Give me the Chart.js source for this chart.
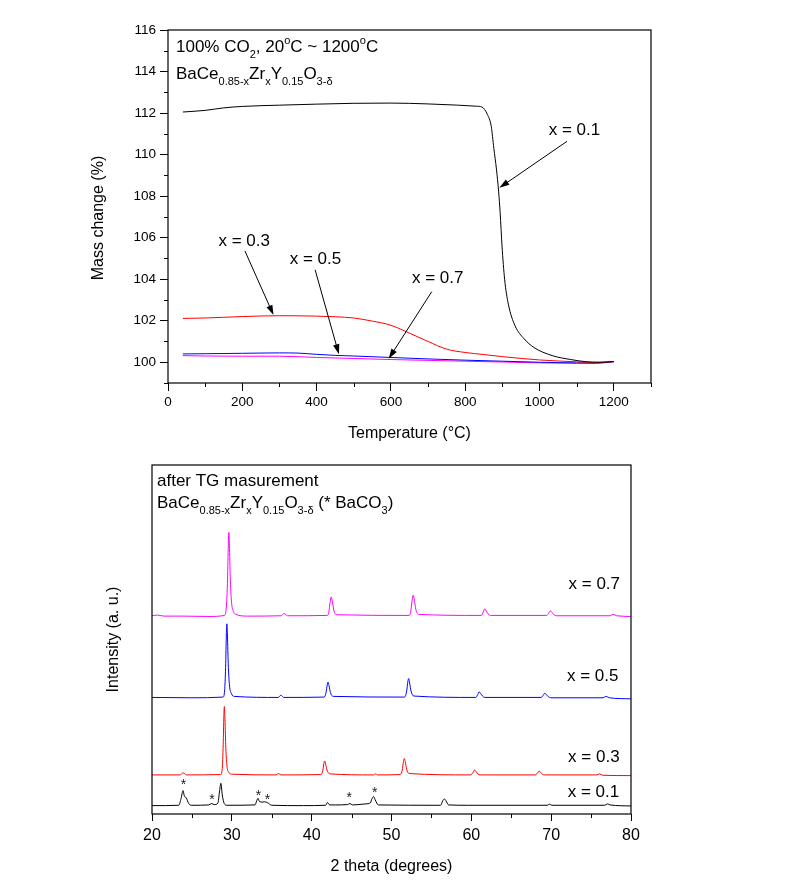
<!DOCTYPE html>
<html>
<head>
<meta charset="utf-8">
<script src="https://cdn.jsdelivr.net/npm/chart.js@4"></script>
<style>
  body { margin: 0; background: #fff; }
  canvas { display: block; }
</style>
</head>
<body>
<canvas id="tgChart" width="796" height="450"></canvas>
<canvas id="xrdChart" width="796" height="438"></canvas>
<script>
// ---- TG curves: temperature (°C) / mass change (%) ----
var tempX01 = [40, 100, 150, 200, 300, 400, 500, 600, 700, 780, 830, 845, 860, 870, 877, 884, 890, 894, 899, 906, 916, 934, 959, 984, 1034, 1084, 1123, 1163, 1200];
var massX01 = [112.05, 112.13, 112.25, 112.32, 112.38, 112.43, 112.47, 112.48, 112.44, 112.38, 112.33, 112.29, 111.92, 111.36, 110.3, 109.3, 108.2, 107.2, 105.6, 104.0, 102.8, 101.76, 101.12, 100.72, 100.32, 100.13, 100.03, 100.0, 100.03];
var tempX03 = [40, 100, 200, 300, 400, 450, 500, 550, 600, 650, 700, 750, 800, 850, 900, 1000, 1100, 1150, 1200];
var massX03 = [102.11, 102.13, 102.2, 102.24, 102.22, 102.19, 102.13, 101.98, 101.78, 101.4, 101.0, 100.63, 100.47, 100.37, 100.27, 100.11, 100.02, 99.99, 100.03];
var tempX05 = [40, 100, 200, 300, 350, 400, 450, 500, 600, 700, 800, 900, 1000, 1100, 1150, 1200];
var massX05 = [100.4, 100.41, 100.43, 100.45, 100.44, 100.38, 100.33, 100.3, 100.23, 100.16, 100.1, 100.05, 100.0, 99.97, 99.97, 100.03];
var tempX07 = [40, 100, 200, 300, 400, 500, 600, 700, 800, 900, 1000, 1100, 1150, 1200];
var massX07 = [100.32, 100.3, 100.29, 100.29, 100.23, 100.18, 100.13, 100.09, 100.05, 100.01, 99.97, 99.95, 99.94, 100.03];

var tgXTicks = [0, 200, 400, 600, 800, 1000, 1200];
var tgXMinor = [100, 300, 500, 700, 900, 1100, 1300];
var tgYTicks = [100, 102, 104, 106, 108, 110, 112, 114, 116];
var tgYMinor = [99, 101, 103, 105, 107, 109, 111, 113, 115];

// labels and arrows (tail x, tail y, head x, head y) in data units
var tgLabels = [['x = 0.1', 1094, 111.15], ['x = 0.3', 205, 105.84], ['x = 0.5', 397, 104.95], ['x = 0.7', 726, 104.02]];
var tgArrows = [[1074, 110.64, 892, 108.4], [207, 105.36, 284, 102.27], [396, 104.45, 460, 100.38], [710, 103.4, 594, 100.17]];

// ---- XRD patterns: 2 theta / intensity (offset, a.u.) ----
var tthX07 = [20, 20.7, 21.5, 24, 27, 29.1, 29.3, 29.45, 29.55, 29.62, 29.7, 29.8, 29.95, 30.15, 30.5, 32, 36.2, 36.4, 36.55, 36.7, 37.0, 41.95, 42.15, 42.3, 42.45, 42.6, 42.8, 43.1, 52.2, 52.4, 52.57, 52.72, 52.87, 53.05, 53.4, 61.25, 61.5, 61.68, 61.85, 62.1, 62.4, 69.45, 69.7, 69.9, 70.1, 70.35, 70.7, 77.4, 77.75, 78.2, 80];
var intX07 = [56.8, 57.0, 56.7, 56.7, 56.6, 56.9, 59, 66, 76, 80.7, 77, 68, 61, 58.3, 57.2, 56.7, 56.8, 57.3, 57.5, 57.3, 56.8, 56.9, 57.8, 60.5, 62.2, 60.8, 58.2, 57.1, 56.9, 57.9, 61, 62.7, 61.2, 58.6, 57.2, 56.9, 57.9, 58.8, 58.3, 57.3, 56.9, 56.9, 57.6, 58.2, 57.8, 57.1, 56.8, 56.8, 57.2, 56.8, 56.6];
var tthX05 = [20, 25, 28.9, 29.1, 29.22, 29.32, 29.38, 29.45, 29.55, 29.7, 29.95, 30.3, 35.85, 36.1, 36.25, 36.5, 41.55, 41.8, 41.95, 42.05, 42.17, 42.35, 42.7, 51.65, 51.9, 52.05, 52.15, 52.27, 52.45, 52.8, 60.55, 60.8, 60.98, 61.15, 61.4, 61.7, 68.75, 69.0, 69.2, 69.4, 69.65, 69.95, 76.5, 76.85, 77.3, 80];
var intX05 = [33.4, 33.3, 33.5, 35.5, 42, 52, 54.5, 51, 43, 37, 34.5, 33.7, 33.4, 34.0, 33.9, 33.4, 33.5, 34.8, 37, 37.8, 36.8, 34.8, 33.7, 33.5, 35.2, 38, 38.8, 37.5, 35.2, 33.8, 33.4, 34.2, 35.0, 34.6, 33.8, 33.4, 33.4, 34.0, 34.6, 34.2, 33.6, 33.3, 33.3, 33.7, 33.3, 33.0];
var tthX03 = [20, 23.5, 23.9, 24.3, 28.6, 28.8, 28.92, 29.0, 29.06, 29.13, 29.23, 29.38, 29.6, 30.0, 35.55, 35.85, 36.15, 41.15, 41.4, 41.53, 41.63, 41.75, 41.92, 42.25, 47.75, 48.0, 48.25, 51.1, 51.35, 51.5, 51.6, 51.72, 51.9, 52.2, 59.95, 60.2, 60.4, 60.58, 60.85, 61.1, 68.05, 68.3, 68.5, 68.7, 68.95, 69.2, 75.7, 76.05, 76.45, 80];
var intX03 = [11.2, 11.2, 11.8, 11.2, 11.3, 13, 20, 28, 30.8, 28, 20, 14, 12, 11.4, 11.2, 11.6, 11.2, 11.3, 12.5, 14.5, 15.2, 14.3, 12.6, 11.5, 11.2, 11.5, 11.2, 11.3, 12.6, 15, 15.9, 15, 12.8, 11.6, 11.2, 11.9, 12.6, 12.2, 11.4, 11.2, 11.2, 11.8, 12.3, 11.9, 11.3, 11.2, 11.2, 11.5, 11.1, 11.0];
var tthX01 = [20, 23.35, 23.65, 23.88, 24.05, 24.3, 24.6, 25, 27.1, 27.45, 27.8, 28.25, 28.45, 28.63, 28.8, 29.05, 29.4, 32.9, 33.12, 33.28, 33.45, 33.8, 34.1, 34.5, 35, 39, 41.75, 41.98, 42.25, 43.0, 44.5, 44.8, 45.1, 46.3, 46.8, 47.35, 47.58, 47.75, 47.95, 48.35, 56.15, 56.42, 56.62, 56.82, 57.15, 59.5, 69.5, 69.8, 70.1, 76.7, 77.05, 77.4, 80];
var intX01 = [2.4, 2.5, 4.5, 6.7, 5.2, 4.6, 3.0, 2.5, 2.6, 3.0, 2.7, 3.1, 6.3, 8.8, 5.5, 3.0, 2.5, 2.6, 3.8, 4.5, 3.6, 3.4, 3.5, 3.2, 2.5, 2.4, 2.5, 3.3, 2.6, 2.6, 2.7, 3.0, 2.6, 2.8, 2.9, 3.2, 4.5, 5.0, 4.1, 2.6, 2.5, 3.8, 4.3, 3.8, 2.6, 2.5, 2.5, 2.8, 2.5, 2.5, 2.9, 2.6, 2.3];

var xrdXTicks = [20, 30, 40, 50, 60, 70, 80];
var xrdXMinor = [25, 35, 45, 55, 65, 75];
var xrdLabels = [['x = 0.7', 75.4, 65.9], ['x = 0.5', 75.2, 39.5], ['x = 0.3', 75.35, 16.2], ['x = 0.1', 75.3, 6.2]];
// BaCO3 peaks marked with *
var starTth = [23.94, 27.5, 33.35, 34.46, 44.7, 47.9];
var starInt = [9.3, 5.2, 6.2, 5.2, 5.7, 7.1];

var FONT = '"Liberation Sans", Arial, sans-serif';
Chart.defaults.font.family = FONT;
Chart.defaults.color = '#000';

function toXY(xs, ys) {
    return xs.map(function (x, i) { return { x: x, y: ys[i] }; });
}

// text with sub/superscripts: parts = [[text, ''|'sub'|'sup'], ...]
function drawRich(ctx, parts, x, y, size, align) {
    var small = Math.round(size * 0.62);
    var w = 0;
    parts.forEach(function (p) {
        ctx.font = (p[1] ? small : size) + 'px ' + FONT;
        w += ctx.measureText(p[0]).width;
    });
    if (align === 'center') x -= w / 2;
    ctx.textAlign = 'left';
    ctx.textBaseline = 'alphabetic';
    parts.forEach(function (p) {
        ctx.font = (p[1] ? small : size) + 'px ' + FONT;
        var dy = p[1] === 'sub' ? size * 0.33 : (p[1] === 'sup' ? -size * 0.45 : 0);
        ctx.fillText(p[0], x, y + dy);
        x += ctx.measureText(p[0]).width;
    });
}

function line(data, color) {
    return {
        data: data, borderColor: color, borderWidth: 1, pointRadius: 0,
        fill: false, cubicInterpolationMode: 'monotone'
    };
}

// frame round the plot area + short minor ticks
var framePlugin = {
    id: 'frame',
    afterDraw: function (chart, args, opts) {
        var a = chart.chartArea, ctx = chart.ctx;
        var sx = chart.scales.x, sy = chart.scales.y;
        ctx.save();
        ctx.strokeStyle = '#000';
        ctx.lineWidth = 1.2;
        ctx.strokeRect(a.left, a.top, a.right - a.left, a.bottom - a.top);
        ctx.lineWidth = 1;
        ctx.beginPath();
        (opts.minorX || []).forEach(function (v) {
            var px = Math.round(sx.getPixelForValue(v)) + 0.5;
            ctx.moveTo(px, a.bottom);
            ctx.lineTo(px, a.bottom + 4);
        });
        (opts.minorY || []).forEach(function (v) {
            var py = Math.round(sy.getPixelForValue(v)) + 0.5;
            ctx.moveTo(a.left, py);
            ctx.lineTo(a.left - 4, py);
        });
        ctx.stroke();
        ctx.restore();
    }
};

// ---------- top: TG ----------
var tgNotes = {
    id: 'tgNotes',
    afterDraw: function (chart) {
        var ctx = chart.ctx, a = chart.chartArea;
        var sx = chart.scales.x, sy = chart.scales.y;
        ctx.save();
        ctx.fillStyle = '#000';
        drawRich(ctx, [['100% CO', ''], ['2', 'sub'], [', 20', ''], ['o', 'sup'], ['C ~ 1200', ''], ['o', 'sup'], ['C', '']], a.left + 8, a.top + 22, 17);
        drawRich(ctx, [['BaCe', ''], ['0.85-x', 'sub'], ['Zr', ''], ['x', 'sub'], ['Y', ''], ['0.15', 'sub'], ['O', ''], ['3-\u03b4', 'sub']], a.left + 8, a.top + 49, 17);

        tgLabels.forEach(function (l) {
            ctx.font = '17px ' + FONT;
            ctx.textAlign = 'center';
            ctx.textBaseline = 'middle';
            ctx.fillText(l[0], sx.getPixelForValue(l[1]), sy.getPixelForValue(l[2]));
        });

        ctx.strokeStyle = '#000';
        ctx.lineWidth = 1;
        tgArrows.forEach(function (r) {
            var x1 = sx.getPixelForValue(r[0]), y1 = sy.getPixelForValue(r[1]);
            var x2 = sx.getPixelForValue(r[2]), y2 = sy.getPixelForValue(r[3]);
            var ang = Math.atan2(y2 - y1, x2 - x1);
            var len = 10, half = 3.2;
            ctx.beginPath();
            ctx.moveTo(x1, y1);
            ctx.lineTo(x2 - Math.cos(ang) * len * 0.8, y2 - Math.sin(ang) * len * 0.8);
            ctx.stroke();
            ctx.beginPath();
            ctx.moveTo(x2, y2);
            ctx.lineTo(x2 - Math.cos(ang) * len - Math.sin(ang) * half, y2 - Math.sin(ang) * len + Math.cos(ang) * half);
            ctx.lineTo(x2 - Math.cos(ang) * len + Math.sin(ang) * half, y2 - Math.sin(ang) * len - Math.cos(ang) * half);
            ctx.closePath();
            ctx.fill();
        });

        // y axis title
        ctx.translate(99, 218);
        ctx.rotate(-Math.PI / 2);
        ctx.font = '16px ' + FONT;
        ctx.textAlign = 'center';
        ctx.textBaseline = 'middle';
        ctx.fillText('Mass change (%)', 0, 0);
        ctx.restore();
    }
};

new Chart(document.getElementById('tgChart'), {
    type: 'line',
    data: {
        datasets: [
            line(toXY(tempX01, massX01), '#000000'),
            line(toXY(tempX03, massX03), '#ff0000'),
            line(toXY(tempX05, massX05), '#0000ff'),
            line(toXY(tempX07, massX07), '#ff00ff')
        ]
    },
    options: {
        responsive: false,
        animation: false,
        layout: { padding: { left: 0, top: 30, right: 145, bottom: 0 } },
        plugins: {
            legend: { display: false },
            tooltip: { enabled: false },
            frame: { minorX: tgXMinor, minorY: tgYMinor }
        },
        scales: {
            x: {
                type: 'linear', min: 0, max: 1300,
                afterBuildTicks: function (s) { s.ticks = tgXTicks.map(function (v) { return { value: v }; }); },
                afterFit: function (s) { s.height = 67; },
                grid: { drawOnChartArea: false, tickLength: 8, tickColor: '#000', tickWidth: 1 },
                border: { display: false },
                ticks: { font: { size: 13.5 }, color: '#000', padding: 3, maxRotation: 0, autoSkip: false,
                    callback: function (v) { return String(v); } },
                title: { display: true, text: 'Temperature (°C)', font: { size: 16 }, color: '#000', padding: { top: 0, bottom: 7 } }
            },
            y: {
                type: 'linear', min: 99, max: 116,
                afterBuildTicks: function (s) { s.ticks = tgYTicks.map(function (v) { return { value: v }; }); },
                afterFit: function (s) { s.width = 168; },
                grid: { drawOnChartArea: false, tickLength: 8, tickColor: '#000', tickWidth: 1 },
                border: { display: false },
                ticks: { font: { size: 13.5 }, color: '#000', padding: 4, autoSkip: false,
                    callback: function (v) { return String(v); } }
            }
        }
    },
    plugins: [framePlugin, tgNotes]
});

// ---------- bottom: XRD ----------
var xrdNotes = {
    id: 'xrdNotes',
    afterDraw: function (chart) {
        var ctx = chart.ctx, a = chart.chartArea;
        var sx = chart.scales.x, sy = chart.scales.y;
        ctx.save();
        ctx.fillStyle = '#000';
        drawRich(ctx, [['after TG masurement', '']], a.left + 5, a.top + 21, 17);
        drawRich(ctx, [['BaCe', ''], ['0.85-x', 'sub'], ['Zr', ''], ['x', 'sub'], ['Y', ''], ['0.15', 'sub'], ['O', ''], ['3-\u03b4', 'sub'], [' (* BaCO', ''], ['3', 'sub'], [')', '']], a.left + 5, a.top + 43, 17);

        ctx.font = '17px ' + FONT;
        ctx.textAlign = 'center';
        ctx.textBaseline = 'middle';
        xrdLabels.forEach(function (l) {
            ctx.fillText(l[0], sx.getPixelForValue(l[1]), sy.getPixelForValue(l[2]));
        });

        ctx.font = '14px ' + FONT;
        ctx.fillStyle = '#222';
        starTth.forEach(function (t, i) {
            ctx.fillText('*', sx.getPixelForValue(t), sy.getPixelForValue(starInt[i]) + 4);
        });
        ctx.restore();
    }
};

new Chart(document.getElementById('xrdChart'), {
    type: 'line',
    data: {
        datasets: [
            line(toXY(tthX07, intX07), '#ff00ff'),
            line(toXY(tthX05, intX05), '#0000ff'),
            line(toXY(tthX03, intX03), '#ff0000'),
            line(toXY(tthX01, intX01), '#000000')
        ]
    },
    options: {
        responsive: false,
        animation: false,
        layout: { padding: { left: 0, top: 15, right: 165, bottom: 0 } },
        plugins: {
            legend: { display: false },
            tooltip: { enabled: false },
            frame: { minorX: xrdXMinor, minorY: [] }
        },
        scales: {
            x: {
                type: 'linear', min: 20, max: 80,
                afterBuildTicks: function (s) { s.ticks = xrdXTicks.map(function (v) { return { value: v }; }); },
                afterFit: function (s) { s.height = 74; },
                grid: { drawOnChartArea: false, tickLength: 7, tickColor: '#000', tickWidth: 1 },
                border: { display: false },
                ticks: { font: { size: 16 }, color: '#000', padding: 5, maxRotation: 0, autoSkip: false,
                    callback: function (v) { return String(v); } },
                title: { display: true, text: '2 theta (degrees)', font: { size: 16 }, color: '#000', padding: { top: 0, bottom: 12 } }
            },
            y: {
                type: 'linear', min: 0, max: 100,
                afterFit: function (s) { s.width = 152; },
                grid: { display: false },
                border: { display: false },
                ticks: { display: false },
                title: { display: true, text: 'Intensity (a. u.)', font: { size: 16 }, color: '#000', padding: { top: 104, bottom: 0 } }
            }
        }
    },
    plugins: [framePlugin, xrdNotes]
});
</script>
</body>
</html>
